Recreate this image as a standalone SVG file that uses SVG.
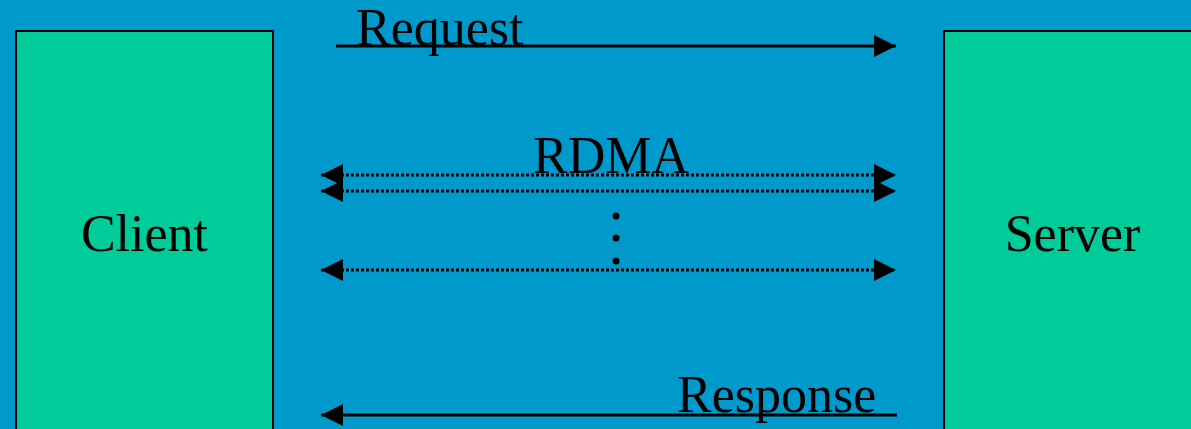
<svg xmlns="http://www.w3.org/2000/svg" width="1191" height="429" viewBox="0 0 1191 429">
<defs>
<style>
.box{fill:#00cc99;stroke:#000;stroke-width:2}
.lbl{font-family:"Liberation Serif","Times New Roman",serif;font-size:52px;fill:#000}
.solid{stroke:#000;stroke-width:3;fill:none}
.dot{stroke:#000;stroke-width:3;stroke-dasharray:3 2;fill:none}
</style>
<marker id="ah" viewBox="0 0 22 22" refX="22" refY="11" markerWidth="22" markerHeight="22" markerUnits="userSpaceOnUse" orient="auto-start-reverse">
<polygon points="0,0 22,11 0,22" fill="#000"/>
</marker>
</defs>
<rect width="1191" height="429" fill="#0099cc"/>
<g id="client">
<rect class="box" x="16" y="31" width="257" height="410"/>
<text class="lbl" x="144.5" y="251" text-anchor="middle">Client</text>
</g>
<g id="server">
<rect class="box" x="944" y="31" width="257" height="410"/>
<text class="lbl" x="1072.5" y="251" text-anchor="middle">Server</text>
</g>
<g id="connectors">
<line class="solid" x1="336" y1="46" x2="896" y2="46" marker-end="url(#ah)"/>
<text class="lbl" x="356" y="45">Request</text>
<line class="dot" x1="321" y1="175" x2="896" y2="175" marker-start="url(#ah)" marker-end="url(#ah)"/>
<line class="dot" x1="321" y1="191" x2="896" y2="191" marker-start="url(#ah)" marker-end="url(#ah)"/>
<text class="lbl" x="611" y="173" text-anchor="middle">RDMA</text>
<circle cx="616" cy="216" r="3.5" fill="#000"/>
<circle cx="616" cy="238" r="3.5" fill="#000"/>
<circle cx="616" cy="261" r="3.5" fill="#000"/>
<line class="dot" x1="321" y1="270" x2="896" y2="270" marker-start="url(#ah)" marker-end="url(#ah)"/>
<line class="solid" x1="897" y1="415" x2="321" y2="415" marker-end="url(#ah)"/>
<text class="lbl" x="677" y="412">Response</text>
</g>
</svg>
